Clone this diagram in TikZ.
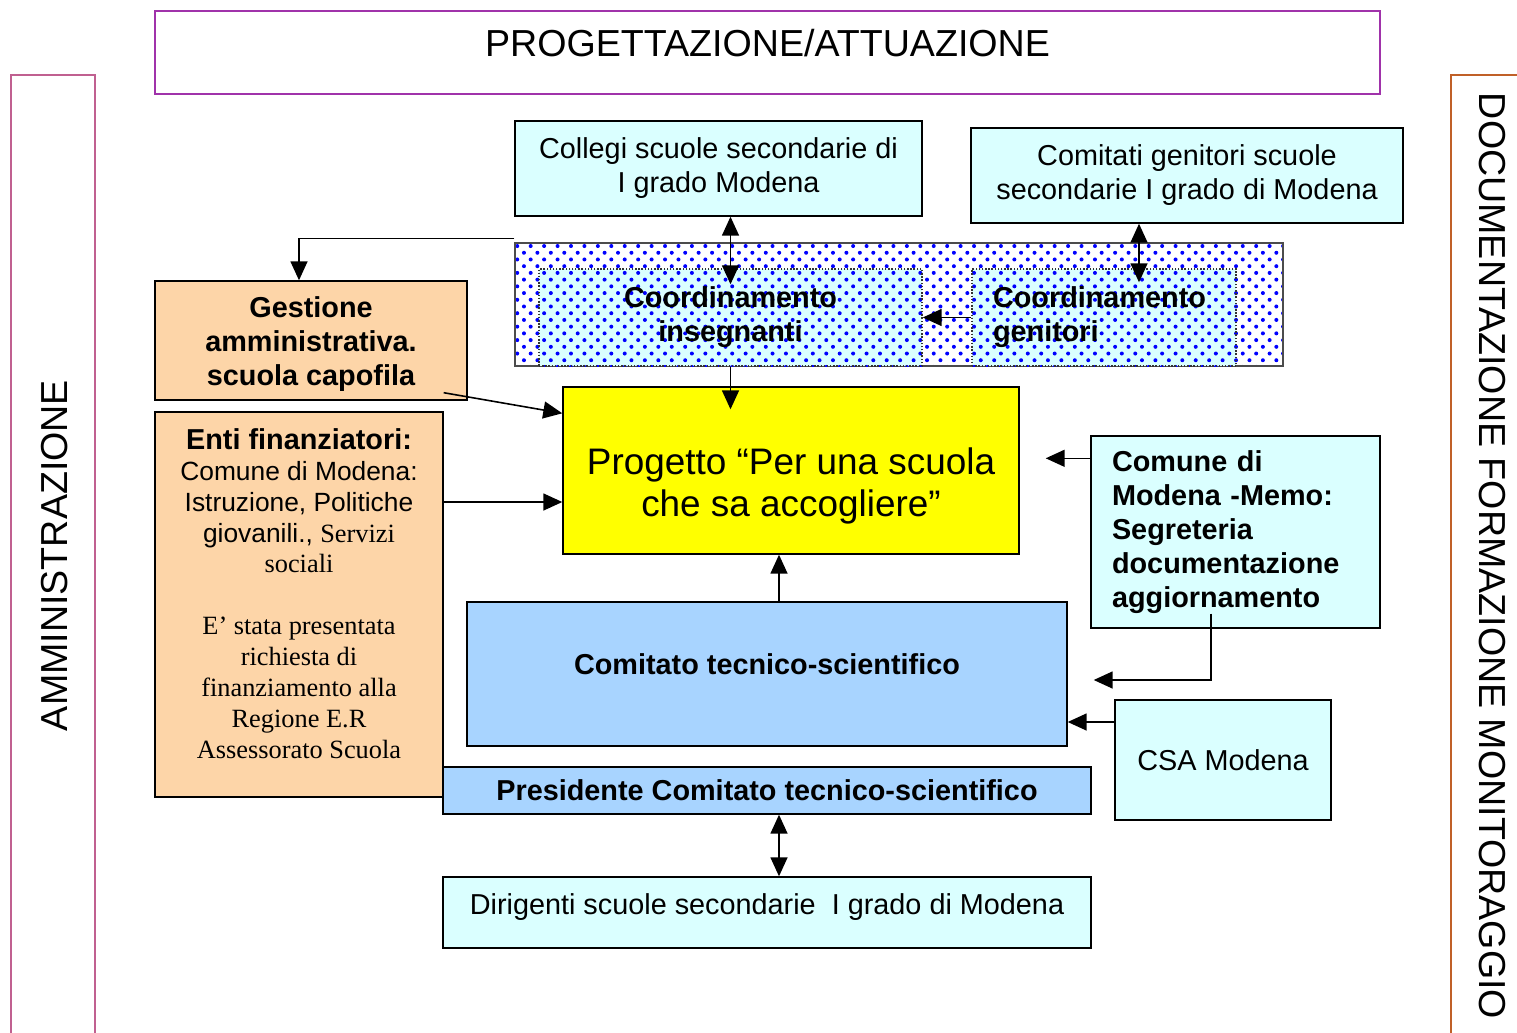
\documentclass[tikz,border=0pt]{standalone}
\usepackage{fontspec}
\setmainfont{Liberation Sans}
\newfontfamily\timesfont{Liberation Serif}
\usepackage{xcolor}
\usepackage{tikz}
\usetikzlibrary{positioning,calc,arrows.meta,patterns.meta}
\definecolor{CyanBox}{RGB}{218,255,255}
\definecolor{BlueBox}{RGB}{168,212,255}
\definecolor{PeachBox}{RGB}{253,213,168}
\definecolor{YellowBox}{RGB}{255,255,0}
\definecolor{TitleBorder}{RGB}{160,50,170}
\definecolor{AdminBorder}{RGB}{192,96,144}
\definecolor{DocBorder}{RGB}{192,96,40}
\newcommand{\txtmid}{\fontsize{16.4}{19.4}\selectfont}
\newcommand{\txtbig}{\fontsize{21}{24}\selectfont}
\newcommand{\txtsmall}{\fontsize{15}{17.6}\selectfont}
% sposta il testo senza cambiare la misura del nodo
\newcommand{\shifttxt}[2]{\raisebox{#1}[0pt][0pt]{#2}}

\begin{document}
\begin{tikzpicture}[
        % --- STYLE CHUNG ---
        box/.style={
            rectangle,
            draw=black,
            line width=0.8pt,
            inner sep=0pt,
            align=center,
            font=\txtmid
        },
        % celeste
        cyan_box/.style={box, fill=CyanBox},
        % azzurro
        blue_box/.style={box, fill=BlueBox, font=\bfseries\txtmid},
        % arancio chiaro
        peach_box/.style={box, fill=PeachBox},
        % riquadro puntinato
        dots_box/.style={
            rectangle,
            draw=black!70,
            line width=0.8pt,
            pattern={Dots[distance=0.19cm, radius=0.04cm, angle=45]},
            pattern color=blue
        },
        inner_box/.style={
            box,
            draw=black!80,
            densely dotted,
            preaction={fill=CyanBox},
            pattern={Dots[distance=0.19cm, radius=0.04cm, angle=45]},
            pattern color=blue,
            font=\bfseries\txtmid
        },
        side_label/.style={font=\fontsize{21.4}{24}\selectfont, inner sep=0pt},
        % frecce
        arrow_line/.style={line width=0.9pt, -{Triangle[length=0.38cm, width=0.34cm]}},
        both_line/.style={line width=0.9pt, {Triangle[length=0.38cm, width=0.34cm]}-{Triangle[length=0.38cm, width=0.34cm]}}
    ]
        \useasboundingbox (0,0) rectangle (30.34,-20.64);

        % --- TITOLO ---
        \node[box, draw=TitleBorder, font=\fontsize{21.4}{24}\selectfont, minimum width=24.5cm, minimum height=1.66cm] (title) at (15.35,-1.05) {\shifttxt{-0.08cm}{PROGETTAZIONE/ATTUAZIONE}};

        % --- BANDE LATERALI ---
        \draw[AdminBorder, line width=1pt] (0.22,-21) |- (1.9,-1.5) -- (1.9,-21);
        \node[side_label, rotate=90] (admin_label) at (1.1,-11.11) {AMMINISTRAZIONE};
        \draw[DocBorder, line width=1pt] (29.02,-21) |- (31,-1.5);
        \node[side_label, rotate=-90] (doc_label) at (29.84,-11.12) {DOCUMENTAZIONE FORMAZIONE MONITORAGGIO};

        % --- COLLEGI / COMITATI ---
        \node[cyan_box, minimum width=8.14cm, minimum height=1.9cm] (collegi) at (14.37,-3.37) {Collegi scuole secondarie di\\ I grado Modena};
        \node[cyan_box, minimum width=8.64cm, minimum height=1.9cm] (comitati) at (23.74,-3.51) {Comitati genitori scuole\\ secondarie I grado di Modena};

        % --- COORDINAMENTO ---
        \node[dots_box, minimum width=15.36cm, minimum height=2.46cm] (coord_box) at (17.98,-6.09) {};
        \node[inner_box, minimum width=7.66cm, minimum height=1.94cm] (coord_ins) at (14.61,-6.35) {Coordinamento\\ insegnanti};
        \node[inner_box, align=left, text width=4.44cm, minimum width=5.28cm, minimum height=1.94cm] (coord_gen) at (22.08,-6.35) {Coordinamento\\ genitori};

        % --- AMMINISTRAZIONE ---
        \node[peach_box, font=\bfseries\txtmid, minimum width=6.24cm, minimum height=2.38cm] (gestione) at (6.22,-6.81) {\shifttxt{-0.23cm}{\begin{tabular}{@{}c@{}}Gestione\\ amministrativa.\\ scuola capofila\end{tabular}}};
        \node[peach_box, font=\txtsmall, minimum width=5.76cm, minimum height=7.7cm] (enti) at (5.98,-12.09) {\shifttxt{0.01cm}{\begin{tabular}{@{}c@{}}
            {\bfseries\fontsize{16.4}{17.6}\selectfont Enti finanziatori:}\\
            Comune di Modena:\\
            Istruzione, Politiche\\
            giovanili., {\timesfont Servizi}\\
            {\timesfont sociali}\\[17.6pt]
            {\timesfont E’ stata presentata}\\
            {\timesfont richiesta di}\\
            {\timesfont finanziamento alla}\\
            {\timesfont Regione E.R}\\
            {\timesfont Assessorato Scuola}
            \end{tabular}}};

        % --- PROGETTO ---
        \node[box, fill=YellowBox, font=\txtbig, minimum width=9.12cm, minimum height=3.34cm] (progetto) at (15.82,-9.41) {\shifttxt{-0.52cm}{\begin{tabular}{@{}c@{}}Progetto “Per una scuola\\ che sa accogliere”\end{tabular}}};

        % --- DOCUMENTAZIONE ---
        \node[cyan_box, font=\bfseries\txtmid, align=left, text width=4.94cm, minimum width=5.78cm, minimum height=3.84cm] (memo) at (24.71,-10.64) {Comune di\\ Modena -Memo:\\ Segreteria\\ documentazione\\ aggiornamento};
        \node[cyan_box, minimum width=4.32cm, minimum height=2.4cm] (csa) at (24.46,-15.2) {CSA Modena};

        % --- COMITATO ---
        \node[blue_box, minimum width=12cm, minimum height=2.88cm] (comitato) at (15.34,-13.48) {\shifttxt{0cm}{Comitato tecnico-scientifico}};
        \node[blue_box, minimum width=12.96cm, minimum height=0.94cm] (presidente) at (15.34,-15.81) {Presidente Comitato tecnico-scientifico};
        \node[cyan_box, minimum width=12.96cm, minimum height=1.42cm] (dirigenti) at (15.34,-18.25) {\shifttxt{-0.03cm}{Dirigenti scuole secondarie~ I grado di Modena}};

        % --- FRECCE ---
        \draw[both_line] (coord_ins.north |- collegi.south) -- ([yshift=-0.32cm]coord_ins.north);
        \coordinate (gen_x) at ([xshift=0.7cm]coord_gen.north);
        \draw[both_line] (gen_x |- comitati.south) -- ([yshift=-0.28cm]gen_x);

        \coordinate (gest_x) at ([xshift=-0.24cm]gestione.north);
        \draw[arrow_line] ([yshift=0.08cm]coord_box.north west) -| (gest_x);
        \draw[arrow_line] (coord_gen.west) -- (coord_ins.east);
        \draw[arrow_line] (coord_ins.south) -- ($(coord_ins.south |- progetto.north)+(0,-0.46)$);

        \draw[arrow_line] ($(gestione.south east)+(-0.48,0.16)$) -- ($(progetto.north west)+(0,-0.54)$);
        \coordinate (enti_in) at ($(progetto.west)+(0,-0.63)$);
        \draw[arrow_line] (enti_in -| enti.east) -- (enti_in);

        \coordinate (ct_x) at ($(comitato.north)+(0.24,0)$);
        \draw[arrow_line] (ct_x) -- (ct_x |- progetto.south);

        \coordinate (memo_out) at ($(memo.north west)+(0,-0.46)$);
        \coordinate (memo_tip) at ($(progetto.east |- memo_out)+(0.52,0)$);
        \draw[arrow_line] (memo_out) -- (memo_tip);

        \coordinate (memo_down) at ($(memo.south)+(-0.49,0.3)$);
        \coordinate (ct_tip) at ($(comitato.east)+(0.52,-0.12)$);
        \draw[arrow_line] (memo_down) |- (ct_tip);

        \coordinate (csa_out) at ($(csa.west)+(0,0.76)$);
        \draw[arrow_line] (csa_out) -- (csa_out -| comitato.east);

        \coordinate (pres_x) at ($(presidente.south)+(0.24,0)$);
        \draw[both_line] (pres_x) -- (pres_x |- dirigenti.north);

    \end{tikzpicture}
\end{document}
